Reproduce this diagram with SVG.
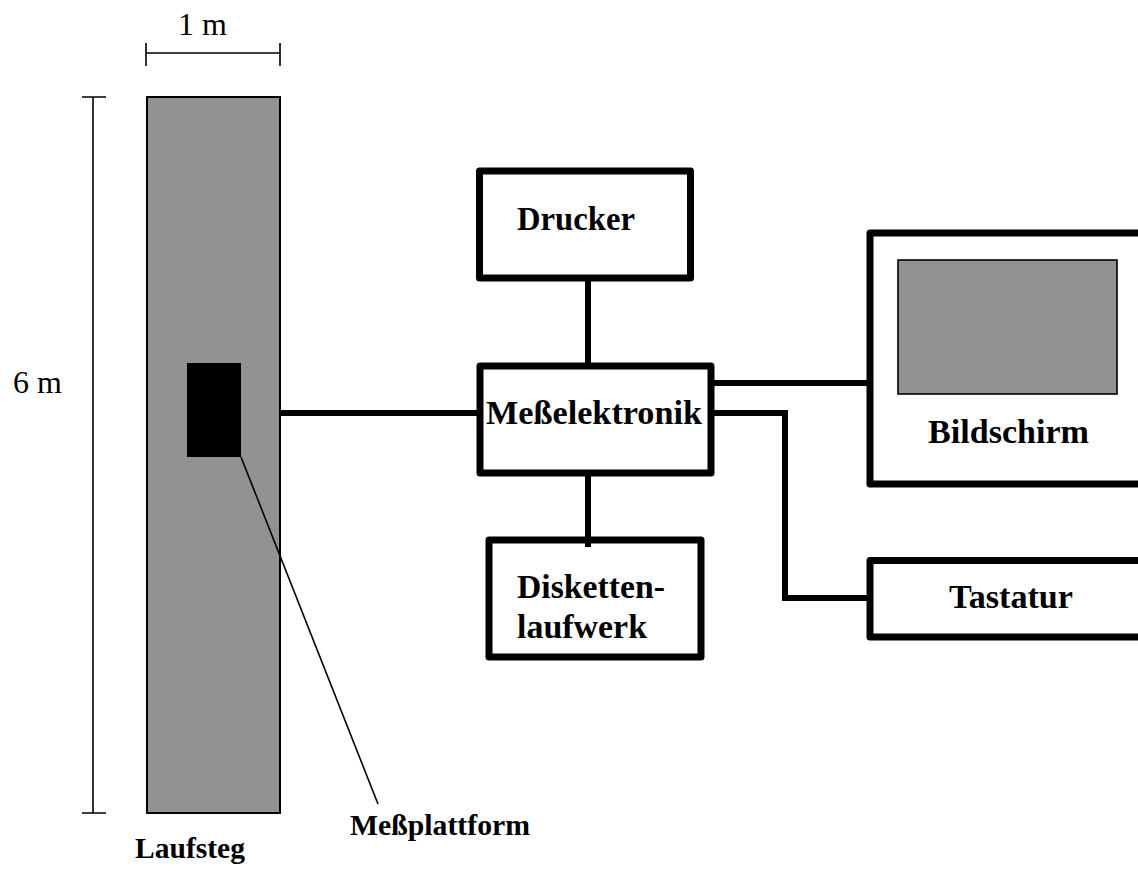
<svg xmlns="http://www.w3.org/2000/svg" width="1138" height="871" viewBox="0 0 1138 871">
<style>
.box{fill:#fff;stroke:#000;stroke-width:7;stroke-linejoin:round}
.con{fill:none;stroke:#000;stroke-width:6}
.dim{fill:none;stroke:#000;stroke-width:1.6}
.bt{font-family:"Liberation Serif",serif;font-weight:bold;font-size:34px;fill:#000}
.lb{font-family:"Liberation Serif",serif;font-weight:bold;font-size:30px;fill:#000}
.rt{font-family:"Liberation Serif",serif;font-size:32px;fill:#000}
</style>
<rect width="1138" height="871" fill="#fff"/>
<g id="dimensions">
<path class="dim" d="M146,53H280M146,43V66M280,43V66"/>
<text class="rt" x="178" y="35">1 m</text>
<path class="dim" d="M93,97V813M82,97H106M82,813H106"/>
<text class="rt" x="13" y="393">6 m</text>
</g>
<g id="laufsteg">
<rect x="147" y="97" width="133" height="716" fill="#929292" stroke="#000" stroke-width="2"/>
<text class="lb" x="135" y="858" textLength="110" lengthAdjust="spacingAndGlyphs">Laufsteg</text>
</g>
<g id="messplattform">
<rect x="187" y="363" width="54" height="94" fill="#000"/>
<text class="lb" x="350" y="835" textLength="180" lengthAdjust="spacingAndGlyphs">Meßplattform</text>
</g>
<g id="drucker">
<rect class="box" x="479.5" y="171" width="211" height="107"/>
<text class="bt" x="517" y="230" textLength="118" lengthAdjust="spacingAndGlyphs">Drucker</text>
</g>
<g id="messelektronik">
<rect class="box" x="480" y="366" width="231" height="107"/>
<text class="bt" x="486" y="424" textLength="216" lengthAdjust="spacingAndGlyphs">Meßelektronik</text>
</g>
<g id="diskettenlaufwerk">
<rect class="box" x="489" y="540" width="212" height="117"/>
<text class="bt" x="517" y="598" textLength="148" lengthAdjust="spacingAndGlyphs">Disketten-</text>
<text class="bt" x="517" y="638" textLength="130" lengthAdjust="spacingAndGlyphs">laufwerk</text>
</g>
<g id="bildschirm">
<rect class="box" x="870" y="233" width="300" height="251"/>
<rect x="898" y="260" width="219" height="134" fill="#929292" stroke="#000" stroke-width="1.6"/>
<text class="bt" x="928" y="443" textLength="161" lengthAdjust="spacingAndGlyphs">Bildschirm</text>
</g>
<g id="tastatur">
<rect class="box" x="870" y="560.5" width="300" height="76.5"/>
<text class="bt" x="949" y="608" textLength="124" lengthAdjust="spacingAndGlyphs">Tastatur</text>
</g>
<g id="connectors">
<path class="con" d="M281,413H480"/>
<path class="con" d="M588,278V366"/>
<path class="con" d="M588,473V547"/>
<path class="con" d="M711,383H870"/>
<path class="con" d="M711,413H785V598H870"/>
<path fill="none" stroke="#000" stroke-width="1.6" d="M241,457L378,804"/>
</g>
</svg>
